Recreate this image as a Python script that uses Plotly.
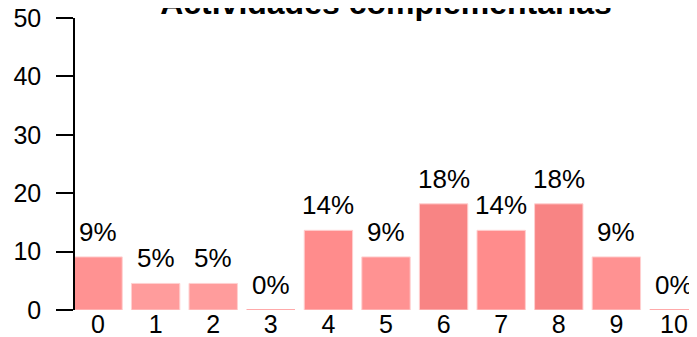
import plotly.graph_objects as go

categories = ["0", "1", "2", "3", "4", "5", "6", "7", "8", "9", "10"]
values = [9.09, 4.55, 4.55, 0, 13.64, 9.09, 18.18, 13.64, 18.18, 9.09, 0]
labels = [f"{round(v):.0f}%" for v in values]
y_ticks = [0, 10, 20, 30, 40, 50]
title = "Actividades complementarias"

def bar_color(v):
    if v >= 17:
        return "#f88484"
    if v >= 12:
        return "#ff8c8c"
    if v >= 8:
        return "#ff9292"
    if v >= 3:
        return "#ff9c9c"
    return "#ffa8a8"

colors = [bar_color(v) for v in values]
xs = list(range(len(categories)))

font = "Liberation Sans, Arial, Helvetica, sans-serif"

fig = go.Figure()
fig.add_trace(go.Bar(
    x=xs, y=values,
    marker=dict(color=colors, line=dict(color="#ffd0d0", width=1)),
    cliponaxis=False, width=0.84,
    hoverinfo="skip",
))

# zero-height bars drawn as thin lines
zx, zy = [], []
for i, v in enumerate(values):
    if v == 0:
        zx += [i - 0.42, i + 0.42, None]
        zy += [0, 0, None]
fig.add_trace(go.Scatter(x=zx, y=zy, mode="lines",
                         line=dict(color="#ffaaaa", width=2),
                         hoverinfo="skip", cliponaxis=False))

for i, (v, lab) in enumerate(zip(values, labels)):
    fig.add_annotation(x=i, y=v, text=lab, showarrow=False,
                       xanchor="center", yanchor="bottom", yshift=8,
                       font=dict(size=26, family=font, color="#000000"))

# page body has an 8px margin: shrink the figure to fit the window
fig.update_layout(
    width=689, height=329,
    margin=dict(l=67, r=0, t=10, b=27),
    paper_bgcolor="white", plot_bgcolor="white",
    showlegend=False,
    font=dict(family=font, size=25, color="#000000"),
    title=dict(text=f"<b>{title}</b>", x=0.5, xref="paper", xanchor="center",
               yref="container", y=1 - 6 / 329, yanchor="bottom",
               font=dict(size=32, family=font, color="#000000")),
    xaxis=dict(range=[-0.40, 10.40], tickvals=xs, ticktext=categories,
               showline=False, showgrid=False, zeroline=False, ticks="",
               tickfont=dict(size=25), ticklabelstandoff=-3, automargin=False),
    yaxis=dict(range=[0, 50], tickvals=y_ticks, showline=True, linecolor="black",
               linewidth=1.5, ticks="outside", ticklen=17, tickwidth=1.5,
               tickcolor="black", showgrid=False, zeroline=False,
               tickfont=dict(size=25), ticklabelstandoff=10,
               ticklabeloverflow="allow", automargin=False),
)

fig.write_html("out.html")
